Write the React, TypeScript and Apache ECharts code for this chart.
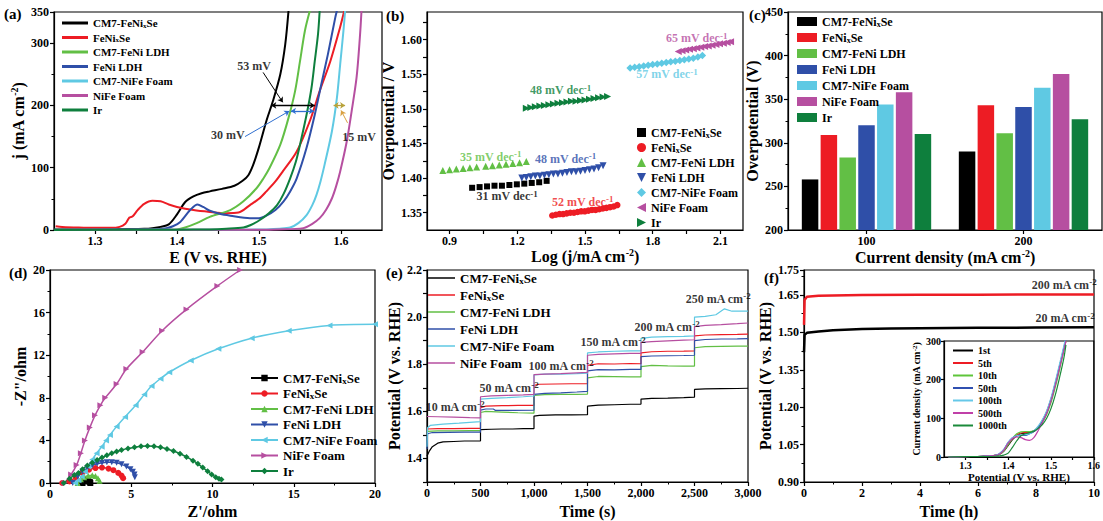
import React, { useEffect, useRef } from 'react';
import * as echarts from 'echarts';

const FONT = '"Liberation Serif", "Times New Roman", serif';

const NAMES = ['CM7-FeNixSe', 'FeNixSe', 'CM7-FeNi LDH', 'FeNi LDH', 'CM7-NiFe Foam', 'NiFe Foam', 'Ir'];
const COLORS = ['#000000', '#ed1c24', '#62bf45', '#2f4fa8', '#5fc9e3', '#b64fa0', '#0e7f3d'];

// (a) LSV curves [E, j]
const lsvCm7FeNixSe = [[1.25,1],[1.30,1],[1.34,1.5],[1.36,2],[1.37,3],[1.38,5],[1.39,9],[1.40,25],[1.41,45],[1.42,54],[1.43,59],[1.44,62],[1.455,66],[1.47,71],[1.48,79],[1.487,88],[1.493,105],[1.50,133],[1.509,175],[1.517,207],[1.526,250],[1.532,298],[1.536,352]];
const lsvFeNixSe = [[1.252,6],[1.26,5],[1.28,4],[1.30,3.5],[1.32,3.5],[1.33,5],[1.337,10],[1.342,20],[1.346,22],[1.352,32],[1.36,42],[1.37,47],[1.38,46],[1.39,41],[1.40,37],[1.42,32],[1.44,29],[1.46,27],[1.475,28],[1.489,40],[1.50,50],[1.509,62],[1.52,78],[1.529,94],[1.546,126],[1.562,175],[1.574,223],[1.587,271],[1.599,326],[1.604,352]];
const lsvCm7FeNiLdh = [[1.25,0.5],[1.38,0.5],[1.40,1],[1.41,4],[1.424,11],[1.44,21],[1.465,32],[1.481,46],[1.497,67],[1.505,82],[1.513,100],[1.526,137],[1.536,180],[1.544,223],[1.55,271],[1.556,320],[1.562,352]];
const lsvFeNiLdh = [[1.25,0.5],[1.37,1],[1.387,3],[1.395,6],[1.404,13],[1.416,32],[1.425,41],[1.432,37],[1.44,31],[1.452,26],[1.465,23],[1.489,19],[1.50,19],[1.509,23],[1.52,32],[1.53,46],[1.538,62],[1.546,83],[1.558,132],[1.568,185],[1.576,234],[1.584,282],[1.593,341],[1.595,352]];
const lsvCm7NiFeFoam = [[1.25,0],[1.48,0.5],[1.509,1],[1.525,2],[1.538,4],[1.548,11],[1.558,24],[1.565,40],[1.57,56],[1.575,78],[1.58,105],[1.589,159],[1.595,212],[1.599,266],[1.603,320],[1.605,352]];
const lsvNiFeFoam = [[1.25,0],[1.50,0.5],[1.522,1],[1.554,3],[1.565,10],[1.574,19],[1.582,33],[1.589,51],[1.594,70],[1.599,94],[1.607,142],[1.613,191],[1.619,245],[1.623,309],[1.625,352]];
const lsvIr = [[1.25,0],[1.40,0.5],[1.44,1],[1.46,2],[1.481,4],[1.49,8],[1.501,16],[1.512,27],[1.522,40],[1.53,58],[1.538,83],[1.545,110],[1.55,137],[1.558,185],[1.564,228],[1.568,271],[1.572,315],[1.574,352]];
const lsvAll = [lsvCm7FeNixSe, lsvFeNixSe, lsvCm7FeNiLdh, lsvFeNiLdh, lsvCm7NiFeFoam, lsvNiFeFoam, lsvIr];
// (a) annotations: double arrows, pointer arrows, labels
const aSpanArrows = [[[1.515,200],[1.568,200],'#000000'],[[1.539,191],[1.567,191],'#2f6fd0'],[[1.591,200],[1.605,200],'#b8a23a']];
const aPointers = [[[1.505,253],[1.529,205],'#000000'],[[1.483,150],[1.537,191],'#2f6fd0'],[[1.608,172],[1.600,192],'#d9a040']];
const aLabels = [[1.494,264,'53 mV'],[1.462,153,'30 mV'],[1.622,150,'15 mV']];

// (b) Tafel points [log j, V]
const tafCm7FeNixSe = [[1.00,1.386],[1.033,1.387],[1.066,1.388],[1.099,1.389],[1.132,1.389],[1.165,1.390],[1.198,1.391],[1.231,1.392],[1.264,1.393],[1.297,1.394],[1.33,1.396]];
const tafFeNixSe = [[1.355,1.346],[1.371,1.347],[1.387,1.348],[1.403,1.348],[1.419,1.349],[1.435,1.350],[1.451,1.350],[1.467,1.351],[1.483,1.352],[1.499,1.352],[1.515,1.353],[1.531,1.354],[1.547,1.354],[1.563,1.355],[1.579,1.356],[1.595,1.357],[1.611,1.358],[1.627,1.359],[1.643,1.361]];
const tafCm7FeNiLdh = [[0.87,1.411],[0.90,1.412],[0.93,1.413],[0.96,1.414],[0.99,1.415],[1.02,1.416],[1.06,1.417],[1.09,1.418],[1.12,1.419],[1.15,1.420],[1.18,1.421],[1.21,1.422],[1.24,1.424]];
const tafFeNiLdh = [[1.22,1.400],[1.24,1.401],[1.26,1.402],[1.28,1.403],[1.30,1.403],[1.32,1.404],[1.34,1.405],[1.36,1.406],[1.38,1.406],[1.40,1.407],[1.42,1.408],[1.44,1.409],[1.46,1.409],[1.48,1.410],[1.50,1.411],[1.52,1.412],[1.54,1.413],[1.56,1.415],[1.58,1.418]];
const tafCm7NiFeFoam = [[1.70,1.559],[1.72,1.560],[1.74,1.561],[1.76,1.562],[1.78,1.563],[1.80,1.564],[1.82,1.565],[1.84,1.566],[1.86,1.567],[1.88,1.568],[1.90,1.569],[1.92,1.570],[1.94,1.571],[1.96,1.572],[1.98,1.573],[2.00,1.575],[2.02,1.577]];
const tafNiFeFoam = [[1.913,1.583],[1.93,1.584],[1.946,1.585],[1.963,1.586],[1.98,1.587],[1.996,1.588],[2.013,1.589],[2.03,1.590],[2.046,1.591],[2.063,1.592],[2.08,1.593],[2.096,1.594],[2.113,1.595],[2.13,1.596],[2.145,1.597]];
const tafIr = [[1.24,1.501],[1.26,1.502],[1.28,1.503],[1.30,1.504],[1.32,1.505],[1.34,1.506],[1.36,1.507],[1.38,1.508],[1.40,1.509],[1.42,1.510],[1.44,1.511],[1.46,1.511],[1.48,1.512],[1.50,1.513],[1.52,1.514],[1.54,1.515],[1.56,1.516],[1.58,1.517],[1.60,1.518]];
const tafAll = [tafCm7FeNixSe, tafFeNixSe, tafCm7FeNiLdh, tafFeNiLdh, tafCm7NiFeFoam, tafNiFeFoam, tafIr];
const tafSlopes = [[1.155,1.374,'31'],[1.49,1.366,'52'],[1.082,1.431,'35'],[1.414,1.428,'48'],[1.863,1.55,'57'],[1.995,1.602,'65'],[1.392,1.527,'48']];

// (c) overpotential bars
const barCategories = ['100', '200'];
const barCm7FeNixSe = [258, 290];
const barFeNixSe = [309, 343];
const barCm7FeNiLdh = [283, 311];
const barFeNiLdh = [320, 341];
const barCm7NiFeFoam = [344, 363];
const barNiFeFoam = [358, 379];
const barIr = [310, 327];
const barAll = [barCm7FeNixSe, barFeNixSe, barCm7FeNiLdh, barFeNiLdh, barCm7NiFeFoam, barNiFeFoam, barIr];

// (d) Nyquist [Z', -Z'']
const eisCm7FeNixSe = [[2.0,0],[2.1,0.15],[2.25,0.28],[2.35,0.25],[2.45,0.1],[2.48,0]];
const eisFeNixSe = [[0.75,0],[1.2,0.15],[1.6,0.55],[2.0,0.95],[2.4,1.25],[2.8,1.4],[3.2,1.45],[3.6,1.35],[3.9,1.2],[4.2,0.95],[4.4,0.7],[4.5,0.45]];
const eisCm7FeNiLdh = [[1.7,0],[1.9,0.35],[2.1,0.55],[2.35,0.68],[2.6,0.72],[2.8,0.65],[2.95,0.45],[3.05,0.2]];
const eisFeNiLdh = [[1.4,0],[1.7,0.6],[2.0,1.05],[2.3,1.4],[2.6,1.65],[2.9,1.8],[3.2,1.9],[3.5,1.95],[3.8,1.95],[4.1,1.9],[4.4,1.75],[4.7,1.55],[4.95,1.3],[5.1,1.05],[5.2,0.8],[5.22,0.55]];
const eisCm7NiFeFoam = [[1.54,0],[1.75,0.25],[1.95,0.6],[2.15,1.05],[2.36,1.55],[2.6,2.2],[2.87,2.8],[3.18,3.4],[3.45,4.0],[3.69,4.5],[4.1,5.3],[4.62,6.2],[5.27,7.3],[5.8,8.3],[6.25,9.1],[6.8,9.8],[7.34,10.4],[8.66,11.5],[10.36,12.6],[12.41,13.6],[14.69,14.3],[17.2,14.8],[20,14.9]];
const eisNiFeFoam = [[0.9,0],[1.3,0.8],[1.64,1.7],[1.9,2.8],[2.15,4.0],[2.45,5.2],[2.77,6.35],[3.1,7.3],[3.4,8.0],[4.1,9.3],[4.7,10.7],[5.7,12.3],[6.9,14.3],[8.4,16.3],[10.3,18.5],[11.7,20]];
const eisIr = [[0.85,0],[1.2,0.4],[1.5,0.75],[1.75,0.95],[2.0,1.3],[2.3,1.65],[2.6,1.9],[2.9,2.15],[3.2,2.4],[3.5,2.6],[3.8,2.8],[4.1,2.95],[4.4,3.1],[4.8,3.25],[5.2,3.35],[5.6,3.45],[6.0,3.47],[6.4,3.45],[6.8,3.35],[7.2,3.2],[7.6,3.0],[8.0,2.75],[8.4,2.45],[8.8,2.1],[9.1,1.8],[9.4,1.45],[9.7,1.1],[9.95,0.8],[10.2,0.55],[10.4,0.4],[10.55,0.32]];
const eisAll = [eisCm7FeNixSe, eisFeNixSe, eisCm7FeNiLdh, eisFeNiLdh, eisCm7NiFeFoam, eisNiFeFoam, eisIr];

// (e) multi-step chronopotentiometry [t, V]
const cpCm7FeNixSe = [[0,1.41],[20,1.43],[50,1.45],[100,1.465],[150,1.47],[250,1.472],[350,1.474],[500,1.475],[500,1.522],[600,1.524],[700,1.525],[800,1.525],[900,1.527],[1000,1.527],[1000,1.58],[1050,1.583],[1200,1.585],[1350,1.585],[1500,1.586],[1500,1.622],[1600,1.626],[1750,1.628],[1900,1.63],[2000,1.631],[2000,1.652],[2100,1.655],[2250,1.656],[2400,1.658],[2500,1.66],[2500,1.693],[2600,1.695],[2750,1.696],[2900,1.697],[3000,1.698]];
const cpFeNixSe = [[0,1.525],[100,1.527],[250,1.527],[400,1.528],[500,1.528],[500,1.615],[550,1.622],[700,1.624],[850,1.625],[1000,1.625],[1000,1.71],[1050,1.715],[1200,1.716],[1350,1.717],[1500,1.718],[1500,1.795],[1600,1.802],[1750,1.801],[1900,1.803],[2000,1.802],[2000,1.848],[2100,1.853],[2250,1.855],[2400,1.856],[2500,1.857],[2500,1.92],[2600,1.924],[2750,1.926],[2900,1.927],[3000,1.928]];
const cpCm7FeNiLdh = [[0,1.515],[100,1.517],[250,1.517],[400,1.518],[500,1.518],[500,1.595],[550,1.6],[700,1.597],[850,1.594],[1000,1.592],[1000,1.668],[1100,1.671],[1250,1.672],[1400,1.672],[1500,1.673],[1500,1.742],[1600,1.748],[1750,1.747],[1900,1.746],[2000,1.746],[2000,1.79],[2100,1.795],[2250,1.793],[2400,1.792],[2500,1.792],[2500,1.87],[2600,1.875],[2750,1.876],[2900,1.877],[3000,1.877]];
const cpFeNiLdh = [[0,1.44],[5,1.505],[50,1.51],[200,1.511],[350,1.512],[500,1.512],[500,1.605],[550,1.61],[620,1.61],[640,1.604],[800,1.604],[1000,1.605],[1000,1.672],[1100,1.676],[1250,1.678],[1400,1.682],[1500,1.685],[1500,1.772],[1600,1.777],[1750,1.776],[1900,1.778],[2000,1.778],[2000,1.832],[2100,1.835],[2250,1.836],[2400,1.837],[2500,1.838],[2500,1.9],[2600,1.905],[2750,1.907],[2900,1.908],[3000,1.909]];
const cpCm7NiFeFoam = [[0,1.45],[5,1.53],[30,1.54],[150,1.546],[300,1.55],[500,1.556],[500,1.652],[600,1.655],[750,1.658],[900,1.662],[1000,1.665],[1000,1.755],[1100,1.758],[1250,1.758],[1400,1.76],[1500,1.762],[1500,1.848],[1600,1.852],[1750,1.855],[1900,1.857],[2000,1.857],[2000,1.91],[2100,1.915],[2250,1.917],[2400,1.918],[2500,1.92],[2500,2.0],[2600,2.003],[2700,2.01],[2780,2.035],[2850,2.025],[2950,2.025],[3000,2.025]];
const cpNiFeFoam = [[0,1.578],[100,1.577],[250,1.575],[400,1.573],[500,1.572],[500,1.662],[600,1.666],[750,1.668],[900,1.67],[1000,1.672],[1000,1.756],[1100,1.758],[1250,1.76],[1400,1.763],[1500,1.765],[1500,1.838],[1600,1.842],[1750,1.844],[1900,1.846],[2000,1.846],[2000,1.893],[2100,1.896],[2250,1.899],[2400,1.902],[2500,1.904],[2500,1.96],[2600,1.965],[2750,1.968],[2900,1.972],[3000,1.975]];
const cpAll = [cpCm7FeNixSe, cpFeNixSe, cpCm7FeNiLdh, cpFeNiLdh, cpCm7NiFeFoam, cpNiFeFoam];
const cpStepLabels = [[262,1.62,'10'],[766,1.70,'50'],[1252,1.793,'100'],[1738,1.893,'150'],[2243,1.96,'200'],[2720,2.078,'250']];

// (f) long-term stability [h, V]
const stab200 = [[0,1.53],[0.02,1.63],[0.1,1.643],[0.5,1.647],[1,1.648],[2,1.65],[4,1.651],[6,1.651],[8,1.652],[10,1.652]];
const stab20 = [[0,1.42],[0.02,1.49],[0.1,1.498],[0.5,1.503],[1,1.508],[2,1.513],[3,1.515],[4,1.516],[6,1.518],[8,1.519],[10,1.52]];
const stabLabels = [[8.97,1.69,'200'],[9.0,1.556,'20']];

// (f inset) LSV after cycles
const cycleNames = ['1st', '5th', '10th', '50th', '100th', '500th', '1000th'];
const cycleColors = ['#000000', '#ed1c24', '#5ec53a', '#3050b0', '#66c8e8', '#c040a8', '#1b8a3a'];
const cycleE = [1.26,1.30,1.34,1.37,1.38,1.39,1.40,1.41,1.42,1.43,1.44,1.45,1.46,1.47,1.48,1.49,1.50,1.51,1.52,1.53,1.535];
const cyc1st = [0,1,2,4,7,15,30,45,55,60,62,63,66,75,88];
const cyc5th = [0,1,2,4,8,17,33,47,57,62,63,64,68,78,95,118,150,190,235,280,300];
const cyc10th = [0,1,2,4,7,16,32,48,60,65,66,66,68,76,90,110,140,180,225,275,300];
const cyc50th = [0,1,2,4,9,20,38,50,55,56,56,60,66,76,92,115,148,190,235,282,305];
const cyc100th = [0,1,2,4,9,20,38,50,55,57,58,60,68,80,97,120,153,195,240,287,310];
const cyc500th = [0,1,2,4,8,18,36,48,52,50,45,43,50,68,90,113,145,185,230,275,300];
const cyc1000th = [0,1,1,2,3,5,10,25,42,55,60,63,67,74,84,100,125,160,205,255,290];
const cycAll = [cyc1st, cyc5th, cyc10th, cyc50th, cyc100th, cyc500th, cyc1000th];

const TRI_UP = 'path://M5,0L10,10L0,10Z';
const TRI_DOWN = 'path://M0,0L10,0L5,10Z';
const TRI_LEFT = 'path://M10,0L10,10L0,5Z';
const TRI_RIGHT = 'path://M0,0L10,5L0,10Z';

const sub = { fontSize: 8, fontFamily: FONT, fontWeight: 'bold', verticalAlign: 'bottom', lineHeight: 8 };
const supS = { fontSize: 9, fontFamily: FONT, fontWeight: 'bold', verticalAlign: 'top', lineHeight: 9 };
const fmtName = (n: string) => n.replace('FeNix', 'FeNi{sub|x}');
const unit = 'mA cm{sup|-2}';

function makeAxis(extra: any) {
  const base: any = {
    type: 'value',
    axisLine: { show: true, onZero: false, lineStyle: { color: '#000', width: 1.2 } },
    axisTick: { show: true, inside: false, length: 4, lineStyle: { color: '#000', width: 1.2 } },
    minorTick: { show: true, splitNumber: 2, length: 2.5, lineStyle: { color: '#000', width: 1 } },
    splitLine: { show: false },
    axisLabel: { color: '#000', fontFamily: FONT, fontWeight: 'bold', fontSize: 12, margin: 5 },
    nameLocation: 'middle',
    nameTextStyle: { color: '#000', fontFamily: FONT, fontWeight: 'bold', fontSize: 16, lineHeight: 18,
      rich: { sup: { fontSize: 10, fontFamily: FONT, fontWeight: 'bold', color: '#000', verticalAlign: 'top', lineHeight: 10 } } },
  };
  const out: any = { ...base, ...extra };
  if (extra.axisLabel) out.axisLabel = { ...base.axisLabel, ...extra.axisLabel };
  if (extra.axisTick) out.axisTick = { ...base.axisTick, ...extra.axisTick };
  if (extra.minorTick) out.minorTick = { ...base.minorTick, ...extra.minorTick };
  if (extra.nameTextStyle) out.nameTextStyle = { ...base.nameTextStyle, ...extra.nameTextStyle };
  return out;
}

function legendCfg(prefix: string, names: string[], extra: any) {
  const fs = extra.fontSize || 12;
  return {
    orient: 'vertical',
    data: names.map((n) => prefix + n),
    formatter: (name: string) => fmtName(name.slice(prefix.length)),
    selectedMode: false,
    padding: 0,
    textStyle: { color: '#000', fontFamily: FONT, fontWeight: 'bold', fontSize: fs, lineHeight: fs + 1,
      rich: { sub: { ...sub, color: '#000', fontSize: Math.max(7, fs - 4) } } },
    ...extra,
  };
}

function textSeries(xi: number, items: any[], color: string | null, fontSize: number) {
  return {
    type: 'scatter', xAxisIndex: xi, yAxisIndex: xi, symbolSize: 0, silent: true, z: 5,
    data: items.map((it) => ({ value: [it[0], it[1]], label: { formatter: it[2], color: it[3] || color || '#000' } })),
    label: { show: true, position: 'inside', fontFamily: FONT, fontWeight: 'bold', fontSize,
      lineHeight: fontSize + 2,
      rich: { sup: { ...supS, fontSize: fontSize - 3 } } },
  };
}

export default function App() {
  const ref = useRef<HTMLDivElement>(null);
  useEffect(() => {
    document.body.style.margin = '0';
    const chart = echarts.init(ref.current!, null, { renderer: 'svg' });
    const gridBase = { show: true, borderColor: '#000', borderWidth: 1.2, backgroundColor: '#fff' };
    const grids = [
      { left: 54, top: 12, width: 328, height: 218 },
      { left: 427, top: 12, width: 316, height: 218 },
      { left: 788, top: 12, width: 314, height: 218 },
      { left: 50, top: 270, width: 325, height: 215 },
      { left: 427, top: 270, width: 321, height: 215 },
      { left: 804, top: 270, width: 298, height: 215 },
      { left: 944, top: 341, width: 157, height: 116 },
    ].map((g) => ({ ...gridBase, ...g }));

    const xAxes = [
      makeAxis({ gridIndex: 0, min: 1.25, max: 1.65, name: 'E (V vs. RHE)', nameGap: 18,
        minorTick: { show: false },
        axisTick: { customValues: [1.3, 1.35, 1.4, 1.45, 1.5, 1.55, 1.6] },
        axisLabel: { customValues: [1.3, 1.4, 1.5, 1.6], formatter: (v: number) => v.toFixed(1) } }),
      makeAxis({ gridIndex: 1, min: 0.8, max: 2.2, name: 'Log (j/' + unit + ')', nameGap: 17,
        minorTick: { show: false },
        axisTick: { customValues: [0.9, 1.05, 1.2, 1.35, 1.5, 1.65, 1.8, 1.95, 2.1] },
        axisLabel: { customValues: [0.9, 1.2, 1.5, 1.8, 2.1], formatter: (v: number) => v.toFixed(1) } }),
      makeAxis({ gridIndex: 2, type: 'category', data: barCategories, name: 'Current density (' + unit + ')', nameGap: 18,
        axisTick: { alignWithLabel: true }, minorTick: { show: false } }),
      makeAxis({ gridIndex: 3, min: 0, max: 20, interval: 5, name: "Z'/ohm", nameGap: 19 }),
      makeAxis({ gridIndex: 4, min: 0, max: 3000, interval: 500, name: 'Time (s)', nameGap: 20 }),
      makeAxis({ gridIndex: 5, min: 0, max: 10, interval: 2, name: 'Time (h)', nameGap: 20 }),
      makeAxis({ gridIndex: 6, min: 1.25, max: 1.6, name: 'Potential (V vs. RHE)', nameGap: 12,
        minorTick: { show: false },
        axisTick: { length: 3, customValues: [1.3, 1.35, 1.4, 1.45, 1.5, 1.55, 1.6] },
        axisLabel: { fontSize: 10, margin: 3, customValues: [1.3, 1.4, 1.5, 1.6], formatter: (v: number) => v.toFixed(1) },
        nameTextStyle: { fontSize: 11, lineHeight: 12 } }),
    ];
    const yAxes = [
      makeAxis({ gridIndex: 0, min: 0, max: 350, interval: 100, name: 'j (' + unit + ')', nameGap: 27 }),
      makeAxis({ gridIndex: 1, min: 1.325, max: 1.64, name: 'Overpotential / V', nameGap: 23,
        minorTick: { show: false },
        axisTick: { customValues: [1.35, 1.375, 1.4, 1.425, 1.45, 1.475, 1.5, 1.525, 1.55, 1.575, 1.6, 1.625] },
        axisLabel: { customValues: [1.35, 1.4, 1.45, 1.5, 1.55, 1.6], formatter: (v: number) => v.toFixed(2) } }),
      makeAxis({ gridIndex: 2, min: 200, max: 450, interval: 50, name: 'Overpotential (V)', nameGap: 18 }),
      makeAxis({ gridIndex: 3, min: 0, max: 20, interval: 4, name: '-Z"/ohm', nameGap: 14 }),
      makeAxis({ gridIndex: 4, min: 1.3, max: 2.2, name: 'Potential (V vs. RHE)', nameGap: 16,
        minorTick: { show: false },
        axisTick: { customValues: [1.3, 1.4, 1.5, 1.6, 1.7, 1.8, 1.9, 2.0, 2.1, 2.2] },
        axisLabel: { customValues: [1.4, 1.6, 1.8, 2.0, 2.2], formatter: (v: number) => v.toFixed(1) } }),
      makeAxis({ gridIndex: 5, min: 0.9, max: 1.75, interval: 0.15, name: 'Potential (V vs. RHE)', nameGap: 26,
        axisLabel: { formatter: (v: number) => v.toFixed(2) } }),
      makeAxis({ gridIndex: 6, min: 0, max: 300, interval: 100, name: 'Current density (' + unit + ')', nameGap: 20,
        minorTick: { show: false }, axisTick: { length: 3 },
        axisLabel: { fontSize: 10, margin: 3 },
        nameTextStyle: { fontSize: 10, lineHeight: 11, rich: { sup: { fontSize: 7, fontFamily: FONT, fontWeight: 'bold', color: '#000', verticalAlign: 'top', lineHeight: 7 } } } }),
    ];

    const series: any[] = [];
    // (a)
    NAMES.forEach((n, i) => series.push({ name: 'a:' + n, type: 'line', xAxisIndex: 0, yAxisIndex: 0, data: lsvAll[i],
      showSymbol: false, smooth: 0.3, lineStyle: { color: COLORS[i], width: 2 }, itemStyle: { color: COLORS[i] } }));
    series.push({ type: 'lines', coordinateSystem: 'cartesian2d', xAxisIndex: 0, yAxisIndex: 0, silent: true, z: 4,
      symbol: ['arrow', 'arrow'], symbolSize: 5,
      data: aSpanArrows.map((d: any) => ({ coords: [d[0], d[1]], lineStyle: { color: d[2], width: 1.3, opacity: 1 } })) });
    series.push({ type: 'lines', coordinateSystem: 'cartesian2d', xAxisIndex: 0, yAxisIndex: 0, silent: true, z: 4,
      symbol: ['none', 'arrow'], symbolSize: 5,
      data: aPointers.map((d: any) => ({ coords: [d[0], d[1]], lineStyle: { color: d[2], width: 1, opacity: 1 } })) });
    series.push(textSeries(0, aLabels, '#000', 12));
    // (b)
    const tafSymbols = [['rect', 6], ['circle', 6.5], [TRI_UP, 7], [TRI_DOWN, 7], ['diamond', 7.5], [TRI_LEFT, 7], [TRI_RIGHT, 7]];
    NAMES.forEach((n, i) => series.push({ name: 'b:' + n, type: 'scatter', xAxisIndex: 1, yAxisIndex: 1, data: tafAll[i],
      symbol: tafSymbols[i][0], symbolSize: tafSymbols[i][1], itemStyle: { color: COLORS[i], opacity: 1 } }));
    series.push(textSeries(1, tafSlopes.map((d, i) => [d[0], d[1], d[2] + ' mV dec{sup|-1}', COLORS[i]]), null, 12));
    // (c)
    NAMES.forEach((n, i) => series.push({ name: 'c:' + n, type: 'bar', xAxisIndex: 2, yAxisIndex: 2, data: barAll[i],
      barWidth: 16.5, barGap: '14%', itemStyle: { color: COLORS[i] } }));
    // (d)
    const eisSymbols = ['rect', 'circle', TRI_UP, TRI_DOWN, TRI_LEFT, TRI_RIGHT, 'diamond'];
    NAMES.forEach((n, i) => series.push({ name: 'd:' + n, type: 'line', xAxisIndex: 3, yAxisIndex: 3, data: eisAll[i],
      smooth: 0.3, showSymbol: true, symbol: eisSymbols[i], symbolSize: 6,
      lineStyle: { color: COLORS[i], width: 1.5 }, itemStyle: { color: COLORS[i] } }));
    // (e)
    NAMES.slice(0, 6).forEach((n, i) => series.push({ name: 'e:' + n, type: 'line', xAxisIndex: 4, yAxisIndex: 4, data: cpAll[i],
      showSymbol: false, lineStyle: { color: COLORS[i], width: 1.2 }, itemStyle: { color: COLORS[i] } }));
    series.push(textSeries(4, cpStepLabels.map((d) => [d[0], d[1], d[2] + ' ' + unit]), '#000', 12));
    // (f)
    series.push({ name: 'f:200', type: 'line', xAxisIndex: 5, yAxisIndex: 5, data: stab200, showSymbol: false,
      lineStyle: { color: '#ed1c24', width: 2.5 } });
    series.push({ name: 'f:20', type: 'line', xAxisIndex: 5, yAxisIndex: 5, data: stab20, showSymbol: false,
      lineStyle: { color: '#000', width: 2.5 } });
    series.push(textSeries(5, stabLabels.map((d) => [d[0], d[1], d[2] + ' ' + unit]), '#000', 12));
    // inset
    cycleNames.forEach((n, i) => series.push({ name: 'g:' + n, type: 'line', xAxisIndex: 6, yAxisIndex: 6,
      data: cycAll[i].map((j, k) => [cycleE[k], j]), showSymbol: false, smooth: 0.3, z: 3,
      lineStyle: { color: cycleColors[i], width: 1.2 }, itemStyle: { color: cycleColors[i] } }));

    const panelLabel = (t: string, x: number, y: number) => ({ type: 'text', left: x, top: y, z: 10,
      style: { text: t, font: 'bold 15px ' + FONT, fill: '#000' } });

    chart.setOption({
      animation: false,
      backgroundColor: '#fff',
      grid: grids,
      xAxis: xAxes,
      yAxis: yAxes,
      legend: [
        legendCfg('a:', NAMES, { left: 62, top: 17, itemWidth: 26, itemHeight: 3, icon: 'rect', itemGap: 2.5, fontSize: 11 }),
        legendCfg('b:', NAMES, { left: 637, top: 126, itemWidth: 9, itemHeight: 9, itemGap: 2, fontSize: 12 }),
        legendCfg('c:', NAMES, { left: 797, top: 15, itemWidth: 20, itemHeight: 9, icon: 'rect', itemGap: 3, fontSize: 12 }),
        legendCfg('d:', NAMES, { left: 250, top: 371, itemWidth: 27, itemHeight: 8, itemGap: 1.5, fontSize: 13 }),
        legendCfg('e:', NAMES.slice(0, 6), { left: 428, top: 271, itemWidth: 27, itemHeight: 1.5, icon: 'rect', itemGap: 3, fontSize: 13 }),
        legendCfg('g:', cycleNames, { left: 953, top: 345, itemWidth: 20, itemHeight: 2, icon: 'rect', itemGap: 1.5, fontSize: 10 }),
      ],
      graphic: [
        panelLabel('(a)', 4, 6), panelLabel('(b)', 386, 8), panelLabel('(c)', 749, 7),
        panelLabel('(d)', 9, 265), panelLabel('(e)', 386, 265), panelLabel('(f)', 764, 270),
      ],
      series,
    });
    return () => chart.dispose();
  }, []);
  return <div ref={ref} style={{ width: 1103, height: 521 }} />;
}
